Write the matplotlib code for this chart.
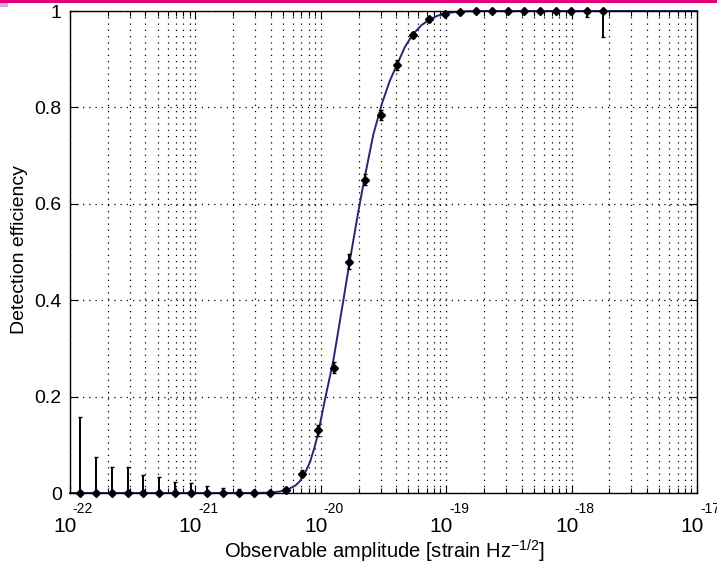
import numpy as np
import matplotlib
matplotlib.use('Agg')
import matplotlib.pyplot as plt
import matplotlib.transforms as mtransforms
from matplotlib.patches import Rectangle
from matplotlib.ticker import LogLocator, NullFormatter, FixedLocator

plt.rcParams['font.family'] = ['Liberation Sans', 'DejaVu Sans']
plt.rcParams['mathtext.fontset'] = 'custom'
plt.rcParams['mathtext.rm'] = 'Liberation Sans'
plt.rcParams['mathtext.it'] = 'Liberation Sans'

# ---------------- data ----------------
amplitude = [1.20e-22, 1.61e-22, 2.15e-22, 2.88e-22, 3.85e-22, 5.15e-22,
             6.89e-22, 9.22e-22, 1.23e-21, 1.65e-21, 2.21e-21, 2.95e-21,
             3.95e-21, 5.29e-21, 7.08e-21, 9.46e-21, 1.27e-20, 1.69e-20,
             2.27e-20, 3.03e-20, 4.06e-20, 5.43e-20, 7.26e-20, 9.71e-20,
             1.30e-19, 1.74e-19, 2.32e-19, 3.11e-19, 4.16e-19, 5.57e-19,
             7.45e-19, 9.96e-19, 1.33e-18, 1.78e-18]
efficiency = [0, 0, 0, 0, 0, 0, 0, 0, 0, 0, 0, 0,
              0.001, 0.006, 0.04, 0.13, 0.26, 0.48,
              0.65, 0.784, 0.888, 0.95, 0.983, 0.994,
              0.998, 1, 1, 1, 1, 1, 1, 1, 1, 1]
err_low = [0, 0, 0, 0, 0, 0, 0, 0, 0, 0, 0, 0,
           0.001, 0.004, 0.007, 0.011, 0.011, 0.015,
           0.012, 0.011, 0.01, 0.007, 0.005, 0.003,
           0.002, 0.001, 0.001, 0.001, 0.001, 0.002, 0.003, 0.006, 0.012, 0.053]
err_high = [0.157, 0.074, 0.053, 0.053, 0.037, 0.034, 0.023, 0.020,
            0.015, 0.010, 0.008, 0.006, 0.004, 0.004, 0.007, 0.011,
            0.011, 0.015, 0.012, 0.011, 0.01, 0.007, 0.005, 0.003,
            0.002, 0, 0, 0, 0, 0, 0, 0, 0, 0]

fit_log_amplitude = [-22.0, -20.6, -20.45, -20.40, -20.33, -20.25, -20.20,
                     -20.165, -20.125, -20.085, -20.05, -20.02, -19.97,
                     -19.90, -19.82, -19.77, -19.70, -19.65, -19.58, -19.51,
                     -19.45, -19.39, -19.33, -19.27, -19.20, -19.13, -19.07,
                     -19.01, -18.89, -18.73, -17.0]
fit_efficiency = [0, 0, 0.0005, 0.001, 0.003, 0.009, 0.016,
                  0.025, 0.042, 0.065, 0.095, 0.125, 0.19,
                  0.275, 0.40, 0.48, 0.585, 0.655, 0.745, 0.81,
                  0.855, 0.89, 0.925, 0.95, 0.97, 0.983, 0.99,
                  0.995, 0.999, 1.0, 1.0]

x_tick_exponents = [-22, -21, -20, -19, -18, -17]
y_ticks = [0, 0.2, 0.4, 0.6, 0.8, 1]
y_tick_labels = ['0', '0.2', '0.4', '0.6', '0.8', '1']

# ---------------- figure ----------------
W, H = 717, 572
fig = plt.figure(figsize=(W / 100, H / 100), dpi=100)
fig.patch.set_facecolor('white')
ax = fig.add_axes([70 / W, 1 - 493 / H, (697 - 70) / W, (493 - 11) / H])

ax.set_xscale('log')
ax.set_xlim(10.0 ** x_tick_exponents[0], 10.0 ** x_tick_exponents[-1])
ax.set_ylim(0, 1)

grid_style = dict(color='black', linestyle=(0, (1, 4)), linewidth=0.9)
ax.xaxis.set_major_locator(FixedLocator([10.0 ** e for e in x_tick_exponents]))
ax.xaxis.set_minor_locator(LogLocator(base=10, subs=np.arange(2, 10), numticks=100))
ax.xaxis.set_major_formatter(NullFormatter())
ax.xaxis.set_minor_formatter(NullFormatter())
ax.set_yticks(y_ticks)
ax.set_yticklabels(y_tick_labels)
ax.grid(True, which='major', axis='both', **grid_style)
ax.grid(True, which='minor', axis='x', **grid_style)
ax.set_axisbelow(True)

ax.tick_params(which='both', direction='in', top=True, right=True, width=0.8)
ax.tick_params(which='major', length=6)
ax.tick_params(which='minor', length=3.5)
ax.tick_params(axis='y', labelsize=14, pad=6)
for sp in ax.spines.values():
    sp.set_linewidth(1.0)

# fit curve
ax.plot([10.0 ** v for v in fit_log_amplitude], fit_efficiency,
        color='#262673', linewidth=1.4, zorder=2.5, clip_on=False)

# data with error bars
ax.errorbar(amplitude, efficiency, yerr=[err_low, err_high], fmt='D',
            color='black', markersize=4.5, elinewidth=1.4, capsize=1.5,
            capthick=1.0, zorder=3, clip_on=False)

# Matlab-style x tick labels: "10" with separate exponent
base_trans = mtransforms.blended_transform_factory(ax.transData, ax.transAxes)
for e in x_tick_exponents:
    xv = 10.0 ** e
    t10 = mtransforms.offset_copy(base_trans, fig=fig, x=-5, y=-33, units='dots')
    ax.text(xv, 0, '10', transform=t10, ha='center', va='center',
            fontsize=15, clip_on=False)
    tex = mtransforms.offset_copy(base_trans, fig=fig, x=13, y=-16, units='dots')
    ax.text(xv, 0, '-%d' % abs(e), transform=tex, ha='center', va='center',
            fontsize=10, clip_on=False)

fig.text(385 / W, 1 - 551 / H, 'Observable amplitude [strain Hz$^{-1/2}$]',
         ha='center', va='center', fontsize=14.5)
fig.text(20 / W, 1 - 250 / H, 'Detection efficiency', rotation=90,
         ha='center', va='center', fontsize=14)

# magenta strip at top
fig.patches.append(Rectangle((0, 1 - 3 / H), 1, 3 / H, transform=fig.transFigure,
                             facecolor='#e2007c', edgecolor='none'))
fig.patches.append(Rectangle((0, 1 - 7 / H), 8 / W, 4 / H, transform=fig.transFigure,
                             facecolor='#d8a8e8', edgecolor='none'))

fig.savefig('out.png', dpi=100)
